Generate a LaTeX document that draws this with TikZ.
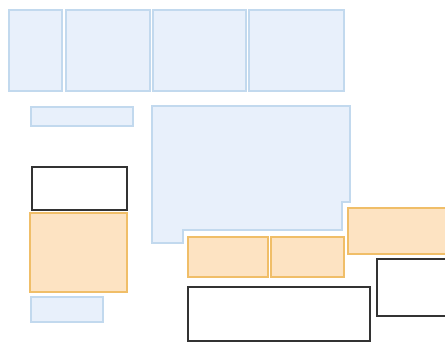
\documentclass[tikz,border=0pt]{standalone}
\usepackage{xcolor}
\usepackage{tikz}
\usetikzlibrary{positioning}

\definecolor{bluefill}{HTML}{E8F0FB}
\definecolor{blueline}{HTML}{C2D9EE}
\definecolor{orfill}{HTML}{FDE3C2}
\definecolor{orline}{HTML}{F0BE68}
\definecolor{darkline}{HTML}{333333}

\begin{document}
\begin{tikzpicture}[
    x=1pt, y=-1pt,
    panel/.style={draw, anchor=north west, inner sep=0pt, line width=1.8pt},
    blubox/.style={panel, draw=blueline, fill=bluefill},
    orbox/.style={panel, draw=orline, fill=orfill, line width=2pt},
    plainbox/.style={panel, draw=darkline, fill=white, line width=1.8pt}
]
\clip (0,0) rectangle (445,343);
\fill[white] (0,0) rectangle (445,343);
% top row
\node[blubox, minimum width=53pt, minimum height=81pt] (topa) at (8,9) {};
\node[blubox, minimum width=84pt, minimum height=81pt] (topb) at (65,9) {};
\node[blubox, minimum width=93pt, minimum height=81pt] (topc) at (152,9) {};
\node[blubox, minimum width=95pt, minimum height=81pt] (topd) at (248,9) {};
% left column
\node[blubox, minimum width=102pt, minimum height=19pt] (bar) at (30,106) {};
\node[plainbox, minimum width=95pt, minimum height=43pt] (white1) at (31,166) {};
\node[orbox, minimum width=97pt, minimum height=79pt] (orleft) at (29,212) {};
\node[blubox, minimum width=72pt, minimum height=25pt] (small) at (30,296) {};
% big notched panel
\draw[draw=blueline, fill=bluefill, line width=1.8pt]
  (152,106) -- (350,106) -- (350,202) -- (342,202) -- (342,230)
  -- (183,230) -- (183,243) -- (152,243) -- cycle;
% lower right
\node[orbox, minimum width=80pt, minimum height=40pt] (ora) at (187,236) {};
\node[orbox, minimum width=73pt, minimum height=40pt] (orb) at (270,236) {};
\node[orbox, minimum width=104pt, minimum height=46pt] (orright) at (347,207) {};
\node[plainbox, minimum width=75pt, minimum height=57pt] (white2) at (376,258) {};
\node[plainbox, minimum width=182pt, minimum height=54pt] (white3) at (187,286) {};
\end{tikzpicture}
\end{document}
